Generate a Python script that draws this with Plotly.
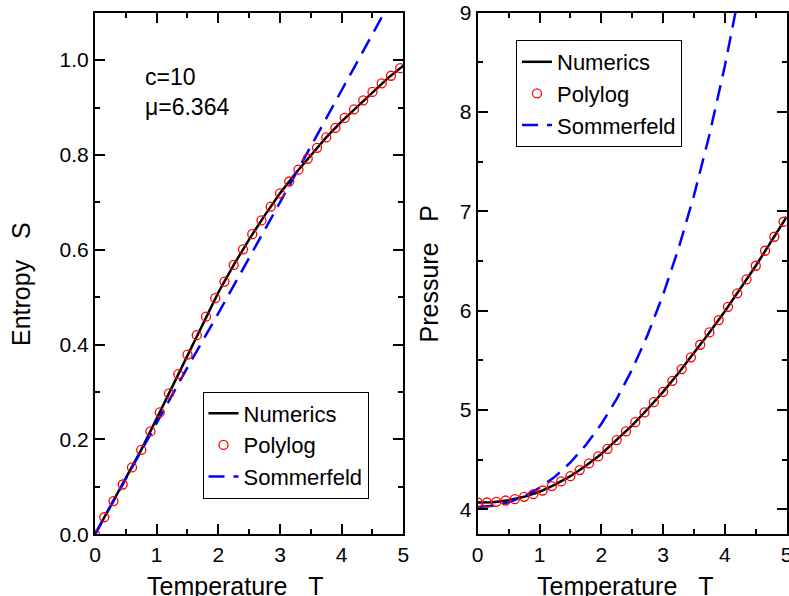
import plotly.graph_objects as go

# ---------------- data ----------------
T_poly = [0.0, 0.15, 0.3, 0.45, 0.6, 0.75, 0.9, 1.05, 1.2, 1.35, 1.5, 1.65, 1.8, 1.95,
          2.1, 2.25, 2.4, 2.55, 2.7, 2.85, 3.0, 3.15, 3.3, 3.45, 3.6, 3.75, 3.9, 4.05,
          4.2, 4.35, 4.5, 4.65, 4.8, 4.95]
S_poly = [0.0, 0.036, 0.070, 0.105, 0.141, 0.178, 0.217, 0.257, 0.297, 0.338, 0.379, 0.420,
          0.459, 0.498, 0.533, 0.568, 0.601, 0.633, 0.662, 0.691, 0.719, 0.744, 0.769, 0.792,
          0.815, 0.837, 0.857, 0.878, 0.896, 0.915, 0.933, 0.951, 0.967, 0.983]
P_poly = [4.07, 4.07, 4.077, 4.09, 4.104, 4.127, 4.154, 4.191, 4.235, 4.282, 4.335, 4.396,
          4.463, 4.534, 4.61, 4.698, 4.785, 4.879, 4.977, 5.08, 5.184, 5.295, 5.413, 5.531,
          5.658, 5.782, 5.906, 6.04, 6.175, 6.316, 6.453, 6.604, 6.745, 6.896]

T_num = [0.0, 0.25, 0.5, 0.75, 1.0, 1.25, 1.5, 1.75, 2.0, 2.25, 2.5, 2.75, 3.0, 3.25, 3.5,
         3.75, 4.0, 4.25, 4.5, 4.75, 5.0]
S_num = [0.0, 0.059, 0.117, 0.178, 0.244, 0.311, 0.379, 0.446, 0.510, 0.568, 0.622, 0.672,
         0.719, 0.761, 0.800, 0.837, 0.871, 0.902, 0.933, 0.962, 0.988]
P_num = [4.07, 4.073, 4.093, 4.127, 4.178, 4.25, 4.335, 4.44, 4.558, 4.698, 4.846, 5.011,
         5.184, 5.373, 5.573, 5.782, 5.995, 6.222, 6.453, 6.698, 6.946]

T_som_S = [0.0, 0.5, 1.0, 1.5, 2.0, 2.5, 3.0, 3.5, 4.0, 4.5, 4.75]
S_som = [0.0, 0.118, 0.236, 0.352, 0.466, 0.582, 0.700, 0.818, 0.936, 1.054, 1.114]

T_som_P = [0.0, 0.25, 0.5, 0.75, 1.0, 1.25, 1.5, 1.75, 2.0, 2.25, 2.5, 2.75, 3.0, 3.25,
           3.5, 3.75, 4.0, 4.25]
P_som = [4.026, 4.038, 4.073, 4.132, 4.217, 4.330, 4.473, 4.648, 4.860, 5.113, 5.410,
         5.758, 6.161, 6.627, 7.161, 7.772, 8.466, 9.253]

x_ticks = [0, 1, 2, 3, 4, 5]
S_ticks = [0.0, 0.2, 0.4, 0.6, 0.8, 1.0]
P_ticks = [4, 5, 6, 7, 8, 9]

# ---------------- figure ----------------
W, H = 789, 596
FONT = "Liberation Sans, Arial, sans-serif"

fig = go.Figure()

line_num = dict(color="black", width=2.5)
mark_poly = dict(symbol="circle-open", size=9, color="red", line=dict(width=1.3, color="red"))
line_som = dict(color="blue", width=2.5, dash="16px,9px")

# left panel
fig.add_trace(go.Scatter(x=T_num, y=S_num, mode="lines", name="Numerics", line=line_num,
                         xaxis="x", yaxis="y", legend="legend", legendrank=1))
fig.add_trace(go.Scatter(x=T_som_S, y=S_som, mode="lines", name="Sommerfeld", line=line_som,
                         xaxis="x", yaxis="y", legend="legend", legendrank=3))
fig.add_trace(go.Scatter(x=T_poly, y=S_poly, mode="markers", name="Polylog", marker=mark_poly,
                         xaxis="x", yaxis="y", legend="legend", legendrank=2))
# right panel
fig.add_trace(go.Scatter(x=T_num, y=P_num, mode="lines", name="Numerics", line=line_num,
                         xaxis="x2", yaxis="y2", legend="legend2", legendrank=1))
fig.add_trace(go.Scatter(x=T_som_P, y=P_som, mode="lines", name="Sommerfeld", line=line_som,
                         xaxis="x2", yaxis="y2", legend="legend2", legendrank=3))
fig.add_trace(go.Scatter(x=T_poly, y=P_poly, mode="markers", name="Polylog", marker=mark_poly,
                         xaxis="x2", yaxis="y2", legend="legend2", legendrank=2))


def axis(domain, rng, tickvals, minor_dtick, anchor, fmt=None):
    d = dict(domain=domain, range=rng, anchor=anchor, tickmode="array", tickvals=tickvals,
             automargin=False, ticklabeloverflow="allow",
             showline=True, linecolor="black", linewidth=2, mirror="allticks",
             ticks="inside", ticklen=10, tickwidth=2, tickcolor="black",
             showgrid=False, zeroline=False,
             tickfont=dict(family=FONT, size=21, color="black"),
             minor=dict(dtick=minor_dtick, tick0=0, ticks="inside", ticklen=5, tickwidth=2,
                        tickcolor="black", showgrid=False))
    if fmt:
        d["tickformat"] = fmt
    return d


def px_x(p):
    return p / W


def px_y(p):
    return 1 - p / H


y_dom = [px_y(534.3), px_y(12.7)]

fig.update_layout(
    width=W, height=H,
    margin=dict(l=0, r=0, t=0, b=0, autoexpand=False),
    paper_bgcolor="white", plot_bgcolor="white",
    font=dict(family=FONT, color="black"),
    xaxis=axis([px_x(95), px_x(403.3)], [0, 5], x_ticks, 0.5, "y"),
    yaxis=axis(y_dom, [0, 1.1], S_ticks, 0.1, "x", ".1f"),
    xaxis2=axis([px_x(477.7), px_x(786.7)], [0, 5], x_ticks, 0.5, "y2"),
    yaxis2=axis(y_dom, [3.75, 9], P_ticks, 0.5, "x2"),
    legend=dict(x=px_x(285.5), y=px_y(445), xanchor="center", yanchor="middle",
                bordercolor="black", borderwidth=1, bgcolor="white",
                font=dict(family=FONT, size=22, color="black"), tracegroupgap=0),
    legend2=dict(x=px_x(599), y=px_y(93.5), xanchor="center", yanchor="middle",
                 bordercolor="black", borderwidth=1, bgcolor="white",
                 font=dict(family=FONT, size=22, color="black"), tracegroupgap=0),
    showlegend=True,
)

title_font = dict(family=FONT, size=25, color="black")
fig.add_annotation(text="c=10<br>μ=6.364", xref="paper", yref="paper",
                   x=px_x(143), y=px_y(62), xanchor="left", yanchor="top",
                   align="left", showarrow=False,
                   font=dict(family=FONT, size=23, color="black"))
fig.add_annotation(text="Temperature\u00a0\u00a0\u00a0T", xref="paper", yref="paper",
                   x=px_x(235), y=px_y(570), xanchor="center", yanchor="top",
                   showarrow=False, font=title_font)
fig.add_annotation(text="Temperature\u00a0\u00a0\u00a0T", xref="paper", yref="paper",
                   x=px_x(625), y=px_y(570), xanchor="center", yanchor="top",
                   showarrow=False, font=title_font)
fig.add_annotation(text="Entropy\u00a0\u00a0\u00a0S", xref="paper", yref="paper",
                   x=px_x(21), y=px_y(284), xanchor="center", yanchor="middle",
                   textangle=-90, showarrow=False, font=title_font)
fig.add_annotation(text="Pressure\u00a0\u00a0\u00a0P", xref="paper", yref="paper",
                   x=px_x(429), y=px_y(273.5), xanchor="center", yanchor="middle",
                   textangle=-90, showarrow=False, font=title_font)

fig.write_html("out.html", config={"displayModeBar": False},
               post_script="document.body.style.margin='0';document.body.style.overflow='hidden';")
